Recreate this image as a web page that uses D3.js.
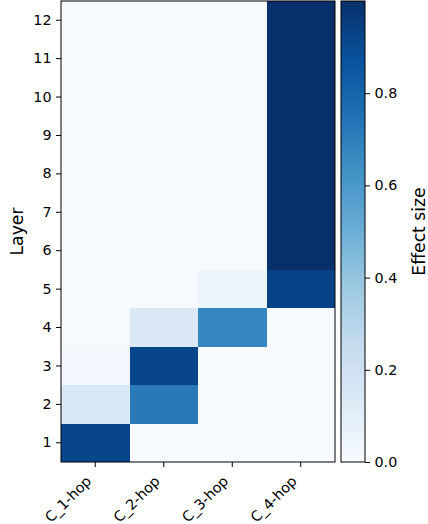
<!DOCTYPE html>
<html>
<head>
<meta charset="utf-8">
<script src="https://cdn.jsdelivr.net/npm/d3@7"></script>
<style>
  html, body { margin: 0; padding: 0; background: #fff; }
  svg { display: block; font-family: "DejaVu Sans", sans-serif; }
</style>
</head>
<body>
<svg id="chart" width="428" height="524"></svg>
<script>
// ---- data ----
const categories = ["C_1-hop", "C_2-hop", "C_3-hop", "C_4-hop"];
const layers = [1, 2, 3, 4, 5, 6, 7, 8, 9, 10, 11, 12];
// effect size per layer (index 0 = layer 1)
const c1hop = [0.92, 0.15, 0.02, 0.005, 0.005, 0.005, 0.005, 0.005, 0.005, 0.005, 0.005, 0.005];
const c2hop = [0.005, 0.72, 0.92, 0.14, 0.005, 0.005, 0.005, 0.005, 0.005, 0.005, 0.005, 0.005];
const c3hop = [0.005, 0.005, 0.005, 0.67, 0.05, 0.005, 0.005, 0.005, 0.005, 0.005, 0.005, 0.005];
const c4hop = [0.005, 0.005, 0.005, 0.005, 0.93, 1.0, 1.0, 1.0, 1.0, 1.0, 1.0, 1.0];
const seriesValues = [c1hop, c2hop, c3hop, c4hop];
const colorbarTicks = [0.0, 0.2, 0.4, 0.6, 0.8];
const blues = ["#f7fbff", "#deebf7", "#c6dbef", "#9ecae1", "#6baed6", "#4292c6", "#2171b5", "#08519c", "#08306b"];

// ---- layout ----
const plot = { left: 61, right: 335, top: 1, bottom: 462 };
const cb = { left: 341, right: 365 };

const cells = [];
categories.forEach((c, ci) => {
  layers.forEach((l, li) => cells.push({ cat: c, layer: l, value: seriesValues[ci][li] }));
});
const vmax = d3.max(cells, d => d.value);
const vmin = 0;

const color = d3.scaleLinear()
  .domain(blues.map((_, i) => vmin + (vmax - vmin) * i / (blues.length - 1)))
  .range(blues)
  .interpolate(d3.interpolateRgb);

const svg = d3.select("#chart");

const x = d3.scaleBand().domain(categories).range([plot.left, plot.right]).padding(0);
const y = d3.scaleBand().domain(layers).range([plot.bottom, plot.top]).padding(0);

// cells
svg.append("g").attr("shape-rendering", "crispEdges")
  .selectAll("rect").data(cells).join("rect")
  .attr("x", d => x(d.cat))
  .attr("y", d => y(d.layer))
  .attr("width", x.bandwidth())
  .attr("height", y.bandwidth())
  .attr("fill", d => color(d.value));

// frame
svg.append("rect")
  .attr("x", plot.left).attr("y", plot.top)
  .attr("width", plot.right - plot.left).attr("height", plot.bottom - plot.top)
  .attr("fill", "none").attr("stroke", "#000").attr("stroke-width", 1);

const fs = 14.3;

// y axis
const yAxis = svg.append("g")
  .attr("transform", `translate(${plot.left},0)`)
  .call(d3.axisLeft(y).tickSize(5).tickPadding(4.5));
yAxis.select(".domain").remove();
yAxis.selectAll("text").attr("font-size", fs).attr("font-family", "DejaVu Sans").attr("fill", "#000");
yAxis.selectAll("line").attr("stroke", "#000");

// x axis
const xAxis = svg.append("g")
  .attr("transform", `translate(0,${plot.bottom})`)
  .call(d3.axisBottom(x).tickSize(5).tickPadding(4.5));
xAxis.select(".domain").remove();
xAxis.selectAll("line").attr("stroke", "#000");
xAxis.selectAll("text")
  .attr("font-size", fs).attr("font-family", "DejaVu Sans").attr("fill", "#000")
  .attr("text-anchor", "end")
  .attr("dy", null)
  .attr("y", 0)
  .attr("transform", "translate(-3,20) rotate(-45)");

// y label
svg.append("text")
  .attr("transform", `translate(23,${(plot.top + plot.bottom) / 2}) rotate(-90)`)
  .attr("text-anchor", "middle")
  .attr("font-size", 17.2)
  .attr("fill", "#000")
  .text("Layer");

// colorbar
const defs = svg.append("defs");
const grad = defs.append("linearGradient")
  .attr("id", "cbgrad").attr("x1", 0).attr("y1", 1).attr("x2", 0).attr("y2", 0);
grad.selectAll("stop").data(blues).join("stop")
  .attr("offset", (d, i) => i / (blues.length - 1))
  .attr("stop-color", d => d);

const cbScale = d3.scaleLinear().domain([vmin, vmax]).range([plot.bottom, plot.top]);
svg.append("rect")
  .attr("x", cb.left).attr("y", plot.top)
  .attr("width", cb.right - cb.left).attr("height", plot.bottom - plot.top)
  .attr("fill", "url(#cbgrad)")
  .attr("stroke", "#000").attr("stroke-width", 1);

const cbAxis = svg.append("g")
  .attr("transform", `translate(${cb.right},0)`)
  .call(d3.axisRight(cbScale).tickValues(colorbarTicks).tickFormat(d3.format(".1f")).tickSize(5).tickPadding(4.5));
cbAxis.select(".domain").remove();
cbAxis.selectAll("line").attr("stroke", "#000");
cbAxis.selectAll("text").attr("font-size", fs).attr("font-family", "DejaVu Sans").attr("fill", "#000");

svg.append("text")
  .attr("transform", `translate(425,${(plot.top + plot.bottom) / 2}) rotate(-90)`)
  .attr("text-anchor", "middle")
  .attr("font-size", 17.2)
  .attr("fill", "#000")
  .text("Effect size");
</script>
</body>
</html>
